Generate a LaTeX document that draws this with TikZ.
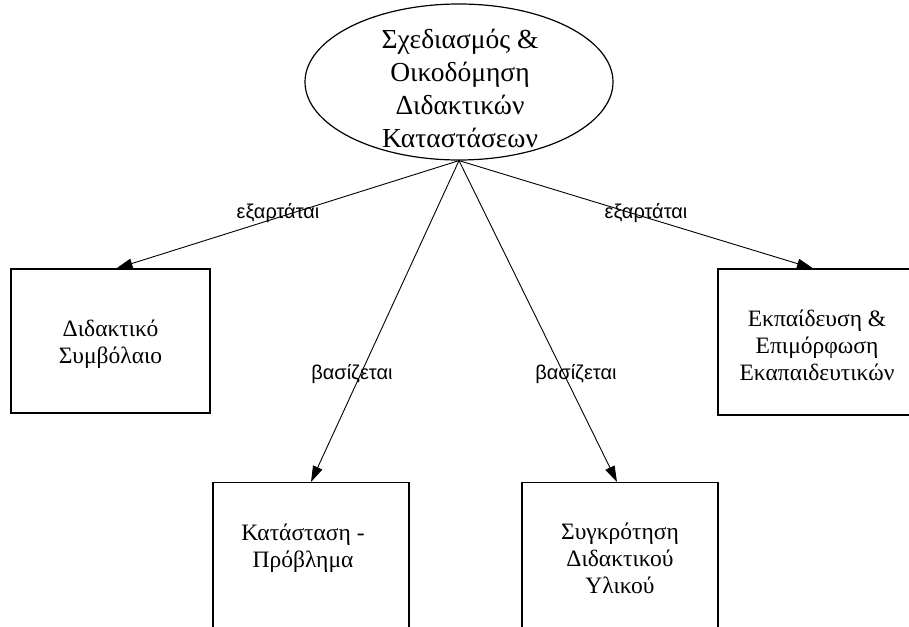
\documentclass[tikz,border=0pt]{standalone}
\usepackage{fontspec}
\setmainfont{Liberation Serif}
\newfontfamily\lblfont{Liberation Sans}
\usetikzlibrary{shapes.geometric,arrows.meta}

\tikzset{
  topic/.style={ellipse, draw, line width=1.2pt, minimum width=308pt, minimum height=156pt,
    inner sep=0pt},
  topictext/.style={align=center, inner sep=0pt, font=\fontsize{27.5}{33}\selectfont},
  boxshape/.style={rectangle, draw, line width=1.3pt, inner sep=0pt},
  boxtext/.style={align=center, inner sep=0pt, font=\fontsize{23.5}{27}\selectfont},
  link/.style={line width=0.9pt, -{Triangle[length=16pt,width=10pt]}},
  rel/.style={font=\lblfont\fontsize{20}{22}\selectfont, inner sep=0pt}
}

\begin{document}
\begin{tikzpicture}[x=1pt, y=-1pt]
  \useasboundingbox (0,0) rectangle (909,626);
  \clip (0,0) rectangle (909,626);
  \fill[white] (0,0) rectangle (909,626);

  % central topic
  \node[topic] (E) at (459,82) {};
  \node[topictext] (Et) at (460,88) {Σχεδιασμός \&\\Οικοδόμηση\\Διδακτικών\\Καταστάσεων};

  % upper boxes
  \node[boxshape, minimum width=199pt, minimum height=144pt] (b1) at (110.5,341) {};
  \node[boxtext] (t1) at (110.5,344) {Διδακτικό\\Συμβόλαιο};
  \node[boxshape, minimum width=196pt, minimum height=146pt] (b4) at (816,342) {};
  \node[boxtext] (t4) at (817,345) {Εκπαίδευση \&\\Επιμόρφωση\\Εκαπαιδευτικών};

  % lower boxes (run past the bottom edge)
  \node[boxshape, anchor=north, minimum width=196pt, minimum height=170pt] (b2) at (311,482) {};
  \node[boxtext] (t2) at (303,548) {Κατάσταση -\\Πρόβλημα};
  \node[boxshape, anchor=north, minimum width=196pt, minimum height=170pt] (b3) at (620,482) {};
  \node[boxtext] (t3) at (620,558) {Συγκρότηση\\Διδακτικού\\Υλικού};

  % connectors
  \draw[link] (E.south) -- ([xshift=6pt]b1.north);
  \draw[link] (E.south) -- (b2.north);
  \draw[link] (E.south) -- ([xshift=-3pt]b3.north);
  \draw[link] (E.south) -- ([xshift=-3pt]b4.north);

  % relation labels
  \node[rel] (l1) at (278,213) {εξαρτάται};
  \node[rel] (l2) at (352,374) {βασίζεται};
  \node[rel] (l3) at (576,374) {βασίζεται};
  \node[rel] (l4) at (646,213) {εξαρτάται};
\end{tikzpicture}
\end{document}
